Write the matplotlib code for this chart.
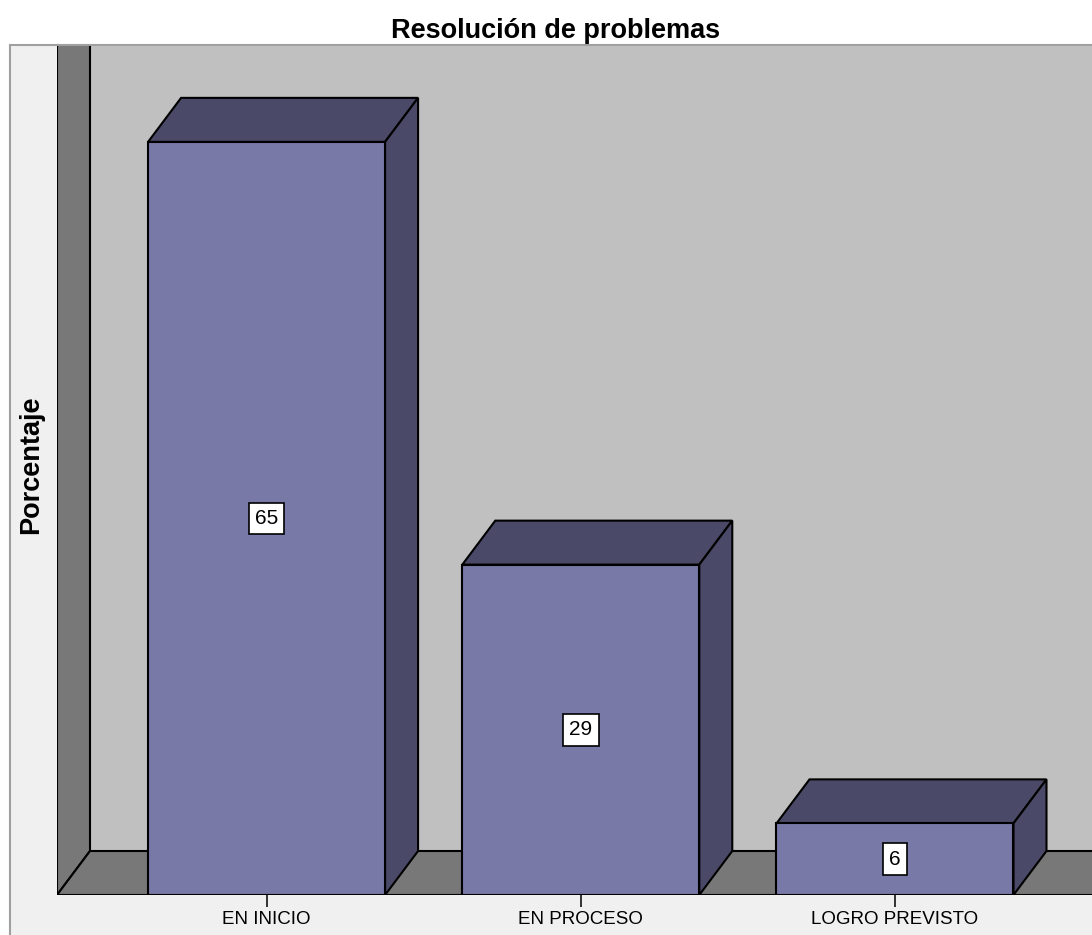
import matplotlib
matplotlib.use("Agg")
import matplotlib.pyplot as plt
from matplotlib.patches import Polygon, Rectangle

# data (labels show the rounded %)
categories = ["EN INICIO", "EN PROCESO", "LOGRO PREVISTO"]
percent = [65.2, 28.6, 6.2]
value_labels = ["65", "29", "6"]

FRONT = "#7979a8"
DARK = "#4a4a68"
WALL = "#c0c0c0"
SIDE_WALL = "#787878"
PANEL = "#f0f0f0"

W, H = 1092, 935
fig = plt.figure(figsize=(W / 100, H / 100), dpi=100)
fig.patch.set_facecolor("white")

# light grey chart panel (runs off the bottom/right of the image)
fig.add_artist(Rectangle((10 / W, -0.1), 1.2, (H - 45) / H + 0.1, transform=fig.transFigure,
                         facecolor=PANEL, edgecolor="#a0a0a0", linewidth=1.5, zorder=0))

# axes = front plane of the 3d box
left_px, right_px, base_px, top_px = 57, W, 895, 46
ax = fig.add_axes([left_px / W, (H - base_px) / H, (right_px - left_px) / W,
                   (base_px - top_px) / H])
ax.set_facecolor("none")
for s in ax.spines.values():
    s.set_visible(False)

x0, x1 = -0.667, 2.627
y0, y1 = 0, 73.5
ax.set_xlim(x0, x1)
ax.set_ylim(y0, y1)

# 3d depth, converted from pixels to data units
px_x = (right_px - left_px) / (x1 - x0)
px_y = (base_px - top_px) / (y1 - y0)
dx = 33 / px_x
dy = 44 / px_y

# back wall, left wall, floor
ax.add_patch(Rectangle((x0 + dx, dy), x1 - x0 + 1, y1, facecolor=WALL,
                       edgecolor="black", linewidth=1.2, zorder=1))
ax.add_patch(Polygon([(x0, 0), (x0 + dx, dy), (x0 + dx, y1 + 5), (x0, y1 + 5)],
                     facecolor=SIDE_WALL, edgecolor="black", linewidth=1.5, zorder=2))
ax.add_patch(Polygon([(x0, 0), (x1 + 1, 0), (x1 + 1 + dx, dy), (x0 + dx, dy)],
                     facecolor=SIDE_WALL, edgecolor="black", linewidth=1.5, zorder=2))

xs = list(range(len(categories)))
width = 237 / px_x
ax.bar(xs, percent, width=width, color=FRONT, edgecolor="black", linewidth=1.5, zorder=5)

for x, v, lab in zip(xs, percent, value_labels):
    l, r = x - width / 2, x + width / 2
    ax.add_patch(Polygon([(l, v), (r, v), (r + dx, v + dy), (l + dx, v + dy)],
                         facecolor=DARK, edgecolor="black", linewidth=1.5, zorder=4))
    ax.add_patch(Polygon([(r, 0), (r + dx, dy), (r + dx, v + dy), (r, v)],
                         facecolor=DARK, edgecolor="black", linewidth=1.5, zorder=4))
    ax.text(x, v / 2, lab, ha="center", va="center", fontsize=15,
            family="Liberation Sans",
            bbox=dict(boxstyle="square,pad=0.3", facecolor="white",
                      edgecolor="black", linewidth=1.2), zorder=6)

ax.axhline(0, color="black", linewidth=1.8, zorder=6)

ax.set_xticks(xs)
ax.set_xticklabels(categories, fontsize=13.5, family="Liberation Sans")
ax.tick_params(axis="x", length=8.5, width=1.3, color="#222222", pad=3)
ax.set_yticks([])

fig.text(556 / W, (H - 31) / H, "Resolución de problemas", ha="center", va="center",
         fontsize=19.5, fontweight="bold", family="Liberation Sans")
fig.text(31 / W, (H - 465) / H, "Porcentaje", ha="center", va="center", rotation=90,
         fontsize=19.5, fontweight="bold", family="Liberation Sans")

fig.savefig("out.png", dpi=100)
